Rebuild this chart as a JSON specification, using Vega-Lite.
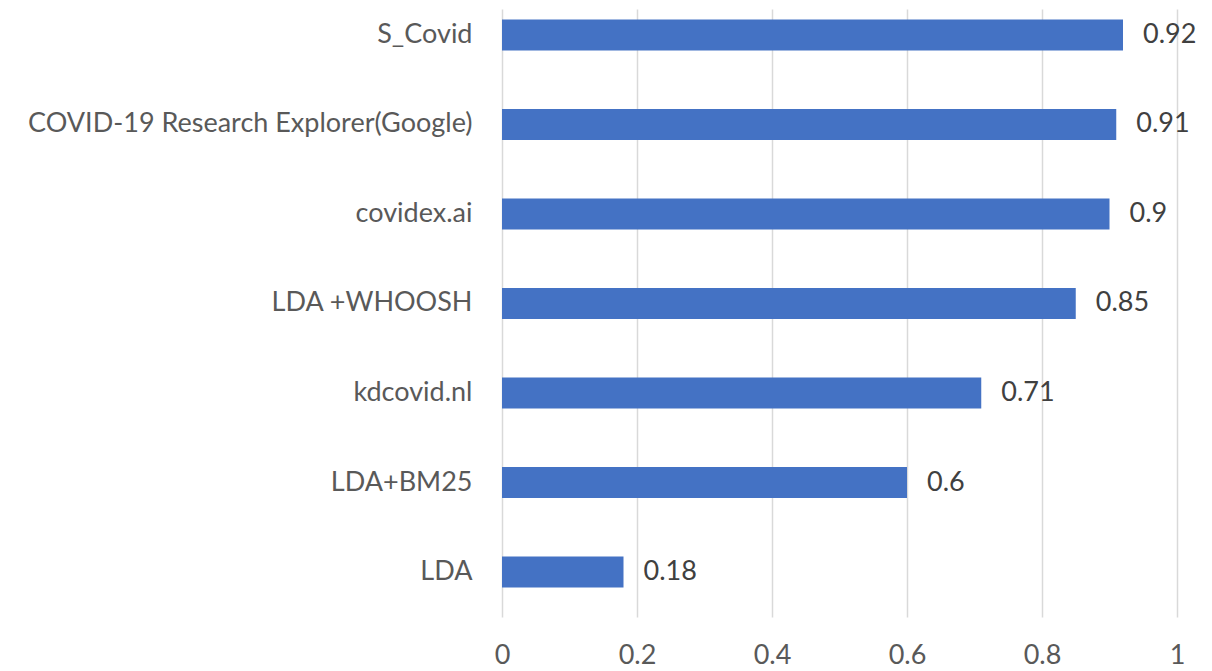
{
  "$schema": "https://vega.github.io/schema/vega-lite/v6.json",
  "autosize": {"type": "none"},
  "padding": {"left": 502, "top": 9, "right": 35, "bottom": 54},
  "width": 675,
  "height": 608,
  "background": "#ffffff",
  "config": {"view": {"stroke": null}, "font": "Lato"},
  "data": {"values": [
    {"system": "S_Covid", "score": 0.92},
    {"system": "COVID-19 Research Explorer(Google)", "score": 0.91},
    {"system": "covidex.ai", "score": 0.9},
    {"system": "LDA +WHOOSH", "score": 0.85},
    {"system": "kdcovid.nl", "score": 0.71},
    {"system": "LDA+BM25", "score": 0.6},
    {"system": "LDA", "score": 0.18}
  ]},
  "encoding": {
    "y": {
      "field": "system", "type": "nominal",
      "sort": ["S_Covid", "COVID-19 Research Explorer(Google)", "covidex.ai", "LDA +WHOOSH", "kdcovid.nl", "LDA+BM25", "LDA"],
      "scale": {"paddingInner": 0.654, "paddingOuter": 0.2235, "align": 0.2625},
      "axis": {"title": null, "ticks": false, "domain": false, "labelPadding": 30, "labelFontSize": 27, "labelColor": "#595959", "labelFont": "Lato", "labelLimit": 600}
    },
    "x": {
      "field": "score", "type": "quantitative",
      "scale": {"domain": [0, 1], "nice": false},
      "axis": {"title": null, "values": [0, 0.2, 0.4, 0.6, 0.8, 1], "format": "~g", "ticks": false, "domain": false, "grid": true, "gridColor": "#d9d9d9", "gridWidth": 1.5, "labelPadding": 25, "labelFontSize": 27, "labelColor": "#595959", "labelFont": "Lato", "labelFlush": false}
    }
  },
  "layer": [
    {"mark": {"type": "bar", "color": "#4472C4"}},
    {"mark": {"type": "text", "align": "left", "baseline": "middle", "dx": 20, "fontSize": 27, "color": "#404040", "font": "Lato"},
     "encoding": {"text": {"field": "score", "type": "quantitative", "format": "~g"}}}
  ]
}
